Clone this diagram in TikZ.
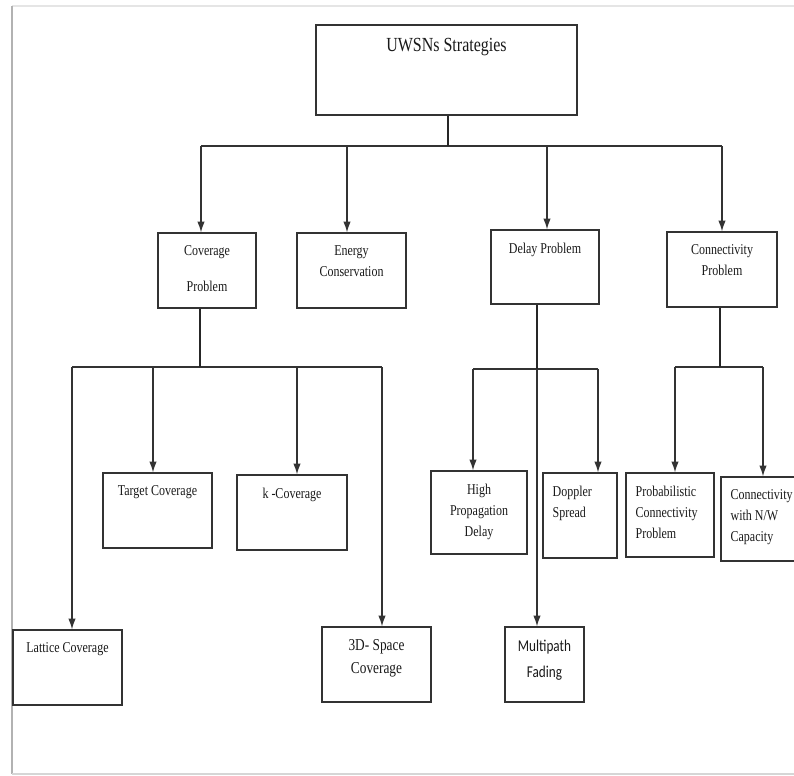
\documentclass[tikz,border=0pt]{standalone}
\usepackage{fontspec}
\setmainfont{Liberation Serif}
\newfontfamily\boxfont{Liberation Serif}[FakeStretch=0.8]
\newfontfamily\calfont{Carlito}[FakeStretch=0.8]
\usetikzlibrary{arrows.meta, calc, positioning}
\tikzset{
    stratBox/.style={rectangle, draw=black!80, line width=1pt, inner sep=0pt},
    boxText/.style={inner sep=0pt, align=center, text=black!90, font=\boxfont\fontsize{11.25}{15.75}\selectfont},
    leftText/.style={boxText, align=left},
    titleText/.style={boxText, font=\boxfont\fontsize{15}{18}\selectfont},
    sansText/.style={boxText, font=\calfont\fontsize{12.4}{19.5}\selectfont},
    spaceText/.style={boxText, font=\boxfont\fontsize{12.5}{17.25}\selectfont},
    stratStem/.style={draw=black!85, line width=1.6pt},
    stratBar/.style={draw=black!80, line width=1.1pt},
    stratEdge/.style={->, >={Latex[length=8pt, width=5.5pt]}, draw=black!80, line width=0.9pt},
    pageEdge/.style={draw=black!#1},
}
% box with its text hanging from the top edge
\newcommand{\stratNode}[6][boxText]{
    \node[stratBox, minimum width={#4*0.75pt}, minimum height={#5*0.75pt}] (#2) at (#3) {};
    \node[#1, anchor=north] (#2-text) at ([yshift=-10pt]#2.north) {#6};
}
\newcommand{\stratLeftNode}[5]{
    \node[stratBox, minimum width={#3*0.75pt}, minimum height={#4*0.75pt}] (#1) at (#2) {};
    \node[leftText, anchor=north west] (#1-text) at ([xshift=7.5pt, yshift=-10pt]#1.north west) {#5};
}

\begin{document}
\begin{tikzpicture}[x=0.75pt, y=-0.75pt]
    \useasboundingbox (0,0) rectangle (794,776);

    % page shadow
    \coordinate (pageTL) at (12,6);
    \coordinate (pageTR) at (794,6);
    \coordinate (pageBL) at (12,774);
    \coordinate (pageBR) at (794,774);
    \draw[pageEdge=10, line width=0.8pt] (pageTL) -- (pageTR);
    \draw[pageEdge=30, line width=2.2pt] (pageTL) -- (pageBL);
    \draw[pageEdge=16, line width=1.5pt] (pageBL) -- (pageBR);

    % top level
    \stratNode[titleText]{root}{446.5,70}{261}{90}{UWSNs Strategies}

    % second level
    \stratNode{cov}{207,270.5}{98}{75}{Coverage\\[11pt]Problem}
    \stratNode{energy}{351.5,270.5}{109}{75}{Energy\\Conservation}
    \stratNode{delay}{545,267}{108}{74}{Delay Problem}
    \stratNode{conn}{722,269.5}{110}{75}{Connectivity\\Problem}

    % coverage branch
    \stratNode{target}{157.5,510.5}{109}{75}{Target Coverage}
    \stratNode{kcov}{292,512.5}{110}{75}{k -Coverage}
    \stratNode{lattice}{67.5,667.5}{109}{75}{Lattice Coverage}
    \stratNode[spaceText]{space3d}{376.5,664.5}{109}{75}{3D- Space\\Coverage}

    % delay branch
    \stratNode{highprop}{479,512.5}{96}{83}{High\\Propagation\\Delay}
    \stratLeftNode{doppler}{580,515.5}{74}{85}{Doppler\\Spread}
    \stratNode[sansText]{multipath}{544.5,664.5}{79}{75}{Multipath\\Fading}

    % connectivity branch
    \stratLeftNode{prob}{670,515}{88}{84}{Probabilistic\\Connectivity\\Problem}
    \stratLeftNode{connnw}{760.5,519}{79}{84}{Connectivity\\with N/W\\Capacity}

    % root -> second level
    \coordinate (rootJoin) at (448,146);
    \foreach \bx/\kid in {201/cov, 347/energy, 547/delay, 722/conn}{
        \coordinate (rootTap-\kid) at (\bx,146);
        \draw[stratEdge] (rootTap-\kid) -- (rootTap-\kid |- \kid.north);
    }
    \draw[stratBar] (rootTap-cov) -- (rootTap-conn);
    \draw[stratStem] (rootJoin |- root.south) -- (rootJoin);

    % coverage -> children
    \coordinate (covJoin) at (200,367);
    \foreach \bx/\kid in {72/lattice, 153/target, 297/kcov, 382/space3d}{
        \coordinate (covTap-\kid) at (\bx,367);
        \draw[stratEdge] (covTap-\kid) -- (covTap-\kid |- \kid.north);
    }
    \draw[stratBar] (covTap-lattice) -- (covTap-space3d);
    \draw[stratStem] (covJoin |- cov.south) -- (covJoin);

    % delay -> children
    \coordinate (delayJoin) at (537,369);
    \foreach \bx/\kid in {473/highprop, 537/multipath, 598/doppler}{
        \coordinate (delayTap-\kid) at (\bx,369);
        \draw[stratEdge] (delayTap-\kid) -- (delayTap-\kid |- \kid.north);
    }
    \draw[stratBar] (delayTap-highprop) -- (delayTap-doppler);
    \draw[stratStem] (delayJoin |- delay.south) -- (delayJoin);

    % connectivity -> children
    \coordinate (connJoin) at (720,367);
    \foreach \bx/\kid in {675/prob, 763/connnw}{
        \coordinate (connTap-\kid) at (\bx,367);
        \draw[stratEdge] (connTap-\kid) -- (connTap-\kid |- \kid.north);
    }
    \draw[stratBar] (connTap-prob) -- (connTap-connnw);
    \draw[stratStem] (connJoin |- conn.south) -- (connJoin);

\end{tikzpicture}
\end{document}
